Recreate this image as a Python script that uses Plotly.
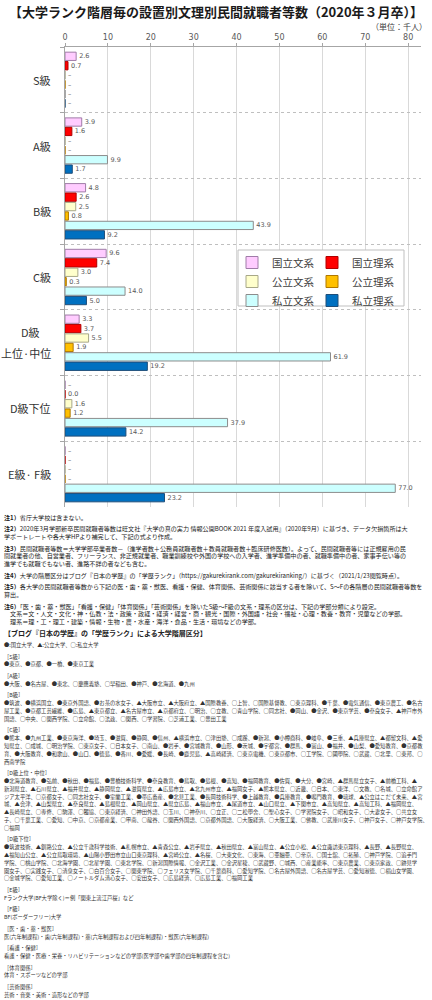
import plotly.graph_objects as go

# ---------------- data ----------------
categories = ["S級", "A級", "B級", "C級", "D級上位·中位", "D級下位", "E級· F級"]
series_names = ["国立文系", "国立理系", "公立文系", "公立理系", "私立文系", "私立理系"]
kokuritsu_bunkei = [2.6, 3.9, 4.8, 9.6, 3.3, None, None]
kokuritsu_rikei = [0.7, 1.6, 2.6, 7.4, 3.7, 0.0, None]
kouritsu_bunkei = [None, None, 2.5, 3.0, 5.5, 1.6, None]
kouritsu_rikei = [None, None, 0.8, 0.3, 1.9, 1.2, None]
shiritsu_bunkei = [None, 9.9, 43.9, 14.0, 61.9, 37.9, 77.0]
shiritsu_rikei = [None, 1.7, 9.2, 5.0, 19.2, 14.2, 23.2]
x_tick_values = [0, 10, 20, 30, 40, 50, 60, 70, 80]

series_values = [kokuritsu_bunkei, kokuritsu_rikei, kouritsu_bunkei,
                 kouritsu_rikei, shiritsu_bunkei, shiritsu_rikei]
fill_colors = ["#FFCCFF", "#FF0000", "#FFFFCC", "#FFC000", "#CCFFFF", "#0070C0"]
line_colors = ["#A07CA8", "#B00000", "#A8A888", "#B07800", "#8C8C8C", "#1F4E79"]
legend_ids = ["legend", "legend2", "legend", "legend2", "legend", "legend2"]

# ---------------- layout geometry (pixels) ----------------
W, H = 432, 1000
PL, PR, PT, PB = 65, 421, 47, 507


def px_x(px):
    return (px - PL) / (PR - PL)


def px_y(py):
    return (PB - py) / (PB - PT)


fig = go.Figure()
for name, vals, fc, lc, lg in zip(series_names, series_values, fill_colors,
                                  line_colors, legend_ids):
    fig.add_trace(go.Bar(
        name=name,
        y=categories,
        x=[v if v is not None else 0 for v in vals],
        text=[f"{v:.1f}" if v is not None else "–" for v in vals],
        orientation="h",
        marker=dict(color=fc, line=dict(color=lc, width=1)),
        textposition="outside",
        textfont=dict(family="DejaVu Sans", size=6.5, color="#595959"),
        cliponaxis=False,
        legend=lg,
        hoverinfo="skip",
    ))

annotations = []

# category labels
label_font = dict(family="Noto Sans CJK JP", size=11, color="#333333")
for cat in categories:
    if cat == "D級上位·中位":
        annotations.append(dict(text="D級", xref="paper", yref="y", x=px_x(30), y=cat,
                                xanchor="center", yanchor="middle", yshift=11,
                                showarrow=False, font=label_font))
        annotations.append(dict(text="上位·中位", xref="paper", yref="y", x=px_x(53), y=cat,
                                xanchor="right", yanchor="middle", yshift=-10,
                                showarrow=False, font=label_font))
    else:
        annotations.append(dict(text=cat, xref="paper", yref="y", x=px_x(53), y=cat,
                                xanchor="right", yanchor="middle",
                                showarrow=False, font=label_font))

# unit label
annotations.append(dict(text="（単位：千人）", xref="paper", yref="paper", x=px_x(429), y=px_y(26.5),
                        xanchor="right", yanchor="middle", showarrow=False,
                        font=dict(family="Noto Sans CJK JP", size=8, color="#404040")))

# notes
N = "note"
HD = "head"
L = "list"
blocks = [
    [(N, "<b>注1）</b>省庁大学校は含まない。")],
    [(N, "<b>注2）</b>2020年3月学部新卒民間就職者等数は旺文社『大学の真の実力 情報公開BOOK 2021 年度入試用』（2020年9月）に基づき、データ欠損箇所は大"),
     (N, "学ポートレートや各大学HPより補完して、下記の式より作成。")],
    [(N, "<b>注3）</b>民間就職者等数＝大学学部卒業者数－（進学者数＋公務員就職者数＋教員就職者数＋臨床研修医数）。よって、民間就職者等には正規雇用の民"),
     (N, "間就業者の他、自営業者、フリーランス、非正規就業者、職業訓練校や外国の学校への入学者、進学準備中の者、就職準備中の者、家事手伝い等の"),
     (N, "進学でも就職でもない者、進路不詳の者なども含む。")],
    [(N, "<b>注4）</b>大学の階層区分はブログ『日本の学歴』の「学歴ランク」（https://gakurekirank.com/gakurekiranking/）に基づく（2021/1/23閲覧時点）。")],
    [(N, "<b>注5）</b>各大学の民間就職者等数から下記の医・歯・薬・獣医、看護・保健、体育関係、芸術関係に該当する者を除いて、S～Fの各階層の民間就職者等数を"),
     (N, "算出。")],
    [(N, "<b>注6）</b>「医・歯・薬・獣医」「看護・保健」「体育関係」「芸術関係」を除いたS級～F級の文系・理系の区分は、下記の学部分類により設定。"),
     (N, "　文系＝文・人文・文化・神・仏教・法・政策・政経・経済・経営・商・観光・国際・外国語・社会・福祉・心理・教養・教育・児童などの学部。"),
     (N, "　理系＝理・工・理工・建築・情報・生物・農・水産・海洋・食品・生活・環境などの学部。")],
    [(HD, "<b>【ブログ『日本の学歴』の「学歴ランク」による大学階層区分】</b>")],
    [(L, "●:国立大学、▲:公立大学、○:私立大学")],
    [(L, "［S級］"), (L, "●東京、●京都、●一橋、●東京工業")],
    [(L, "［A級］"), (L, "●大阪、●名古屋、●東北、○慶應義塾、○早稲田、●神戸、●北海道、●九州")],
    [(L, "［B級］"),
     (L, "●筑波、●横浜国立、●東京外国語、●お茶の水女子、▲大阪市立、▲大阪府立、▲国際教養、○上智、○国際基督教、○東京理科、●千葉、●電気通信、●東京農工、●名古"),
     (L, "屋工業、●京都工芸繊維、●広島、▲東京都立、▲名古屋市立、▲京都府立、○明治、○立教、○青山学院、○同志社、●岡山、●金沢、●東京学芸、●奈良女子、▲神戸市外"),
     (L, "国語、○中央、○関西学院、○立命館、○法政、○関西、○学習院、○芝浦工業、○豊田工業")],
    [(L, "［C級］"),
     (L, "●熊本、●九州工業、●東京海洋、●埼玉、●滋賀、●静岡、●信州、▲横浜市立、○津田塾、○成蹊、●新潟、●小樽商科、●岐阜、●三重、▲兵庫県立、▲都留文科、▲愛"),
     (L, "知県立、○成城、○明治学院、○東京女子、○日本女子、○南山、●岩手、●宮城教育、●山形、●茨城、●宇都宮、●群馬、●富山、●福井、●山梨、●愛知教育、●京都教"),
     (L, "育、●大阪教育、●和歌山、●山口、●徳島、●香川、●愛媛、●長崎、●鹿児島、▲高崎経済、○東京電機、○東京都市、○工学院、○國學院、○武蔵、○北里、○東邦、○"),
     (L, "西南学院")],
    [(L, "［D級上位・中位］"),
     (L, "●北海道教育、●弘前、●秋田、●福島、●豊橋技術科学、●奈良教育、●鳥取、●島根、●高知、●福岡教育、●佐賀、●大分、●宮崎、▲群馬県立女子、▲前橋工科、▲"),
     (L, "新潟県立、▲石川県立、▲福井県立、▲静岡県立、▲滋賀県立、▲広島市立、▲北九州市立、▲福岡女子、▲熊本県立、○近畿、○日本、○東洋、○文教、○名城、○立命館ア"),
     (L, "ジア太平洋、○京都女子、○同志社女子、●室蘭工業、●帯広畜産、●北見工業、●長岡技術科学、●上越教育、●兵庫教育、●鳴門教育、●琉球、▲公立はこだて未来、▲宮"),
     (L, "城、▲会津、▲山梨県立、▲奈良県立、▲島根県立、▲岡山県立、▲県立広島、▲福山市立、▲尾道市立、▲山口県立、▲下関市立、▲高知県立、▲高知工科、▲福岡県立、"),
     (L, "▲長崎県立、○専修、○駒澤、○獨協、○東京経済、○神田外語、○玉川、○神奈川、○立正、○二松學舍、○聖心女子、○学習院女子、○昭和女子、○大妻女子、○共立女"),
     (L, "子、○千葉工業、○愛知、○中京、○京都産業、○甲南、○龍谷、○関西外国語、○京都外国語、○大阪経済、○大阪工業、○佛教、○武庫川女子、○神戸女子、○神戸女学院、"),
     (L, "○福岡")],
    [(L, "［D級下位］"),
     (L, "●筑波技術、▲釧路公立、▲公立千歳科学技術、▲札幌市立、▲青森公立、▲岩手県立、▲秋田県立、▲富山県立、▲公立小松、▲公立諏訪東京理科、▲長野、▲長野県立、"),
     (L, "▲福知山公立、▲公立鳥取環境、▲山陽小野田市立山口東京理科、▲宮崎公立、▲名桜、○大東文化、○東海、○亜細亜、○帝京、○国士舘、○拓殖、○神戸学院、○追手門"),
     (L, "学院、○桃山学院、○北海学園、○北星学園、○東北学院、○新潟国際情報、○金沢工業、○金沢星稜、○武蔵野、○城西、○産業能率、○東京農業、○東京家政、○跡見学"),
     (L, "園女子、○実践女子、○清泉女子、○白百合女子、○関東学院、○フェリス女学院、○千葉商科、○愛知学院、○名古屋外国語、○名古屋学芸、○愛知淑徳、○椙山女学園、"),
     (L, "○金城学院、○愛知工業、○ノートルダム清心女子、○安田女子、○広島経済、○広島工業、○福岡工業")],
    [(L, "［E級］"), (L, "Fランク大学(BF大学除く)＝例「関東上流江戸桜」など")],
    [(L, "［F級］"), (L, "BF(ボーダーフリー)大学")],
    [(L, "［医・歯・薬・獣医］"), (L, "医(六年制課程)・歯(六年制課程)・薬(六年制課程および四年制課程)・獣医(六年制課程)")],
    [(L, "［看護・保健］"), (L, "看護・保健・医療・栄養・リハビリテーションなどの学部(医学部や歯学部の四年制課程を含む)")],
    [(L, "［体育関係］"), (L, "体育・スポーツなどの学部")],
    [(L, "［芸術関係］"), (L, "芸術・音楽・美術・造形などの学部")],
]
fonts = {
    N: dict(family="Noto Sans CJK JP", size=6.1, color="#222222"),
    HD: dict(family="Noto Sans CJK JP", size=7, color="#222222"),
    L: dict(family="Noto Sans CJK JP", size=5.3, color="#333333"),
}
y_cur = 517.0
STEP, GAP = 7.8, 11.6
first = True
for block in blocks:
    for i, (kind, txt) in enumerate(block):
        if not first:
            y_cur += GAP if i == 0 else STEP
        first = False
        annotations.append(dict(text=txt, xref="paper", yref="paper", x=px_x(2), y=px_y(y_cur),
                                xanchor="left", yanchor="middle", showarrow=False,
                                font=fonts[kind]))

# legend frame (white box)
shapes = [dict(type="rect", xref="paper", yref="paper",
               x0=px_x(238), x1=px_x(404), y0=px_y(306), y1=px_y(250),
               line=dict(color="#BFBFBF", width=1), fillcolor="white", layer="above")]

legend_font = dict(family="Noto Sans CJK JP", size=10.5, color="#404040")
fig.update_layout(
    width=W, height=H,
    margin=dict(l=PL, r=W - PR, t=PT, b=H - PB, pad=0),
    paper_bgcolor="white", plot_bgcolor="white",
    font=dict(family="Noto Sans CJK JP", color="#333333"),
    title=dict(text="<b>【大学ランク階層毎の設置別文理別民間就職者等数（2020年３月卒）】</b>",
               x=0.5, xref="container", xanchor="center",
               y=1 - 12 / H, yref="container", yanchor="middle",
               font=dict(family="Noto Sans CJK JP", size=13, color="#1A1A1A")),
    barmode="group", bargap=0.14, bargroupgap=0.12,
    xaxis=dict(side="top", range=[0, 83], tickvals=x_tick_values,
               ticks="outside", ticklen=3, tickcolor="#A6A6A6",
               showline=True, linecolor="#A6A6A6", linewidth=1,
               showgrid=True, gridcolor="#D9D9D9", gridwidth=1, zeroline=False,
               tickfont=dict(family="DejaVu Sans", size=8, color="#595959"),
               fixedrange=True),
    yaxis=dict(categoryorder="array", categoryarray=categories, autorange="reversed",
               showticklabels=False, ticks="outside", ticklen=4, tickcolor="#A6A6A6",
               tickson="boundaries", showgrid=True, gridcolor="#BFBFBF", griddash="dot",
               showline=True, linecolor="#A6A6A6", linewidth=1, fixedrange=True),
    legend=dict(x=px_x(232), y=px_y(248), xanchor="left", yanchor="top",
                bgcolor="rgba(0,0,0,0)", font=legend_font, tracegroupgap=0,
                traceorder="normal"),
    legend2=dict(x=px_x(312), y=px_y(248), xanchor="left", yanchor="top",
                 bgcolor="rgba(0,0,0,0)", font=legend_font, tracegroupgap=0,
                 traceorder="normal"),
    annotations=annotations,
    shapes=shapes,
)

fig.write_html("out.html")
